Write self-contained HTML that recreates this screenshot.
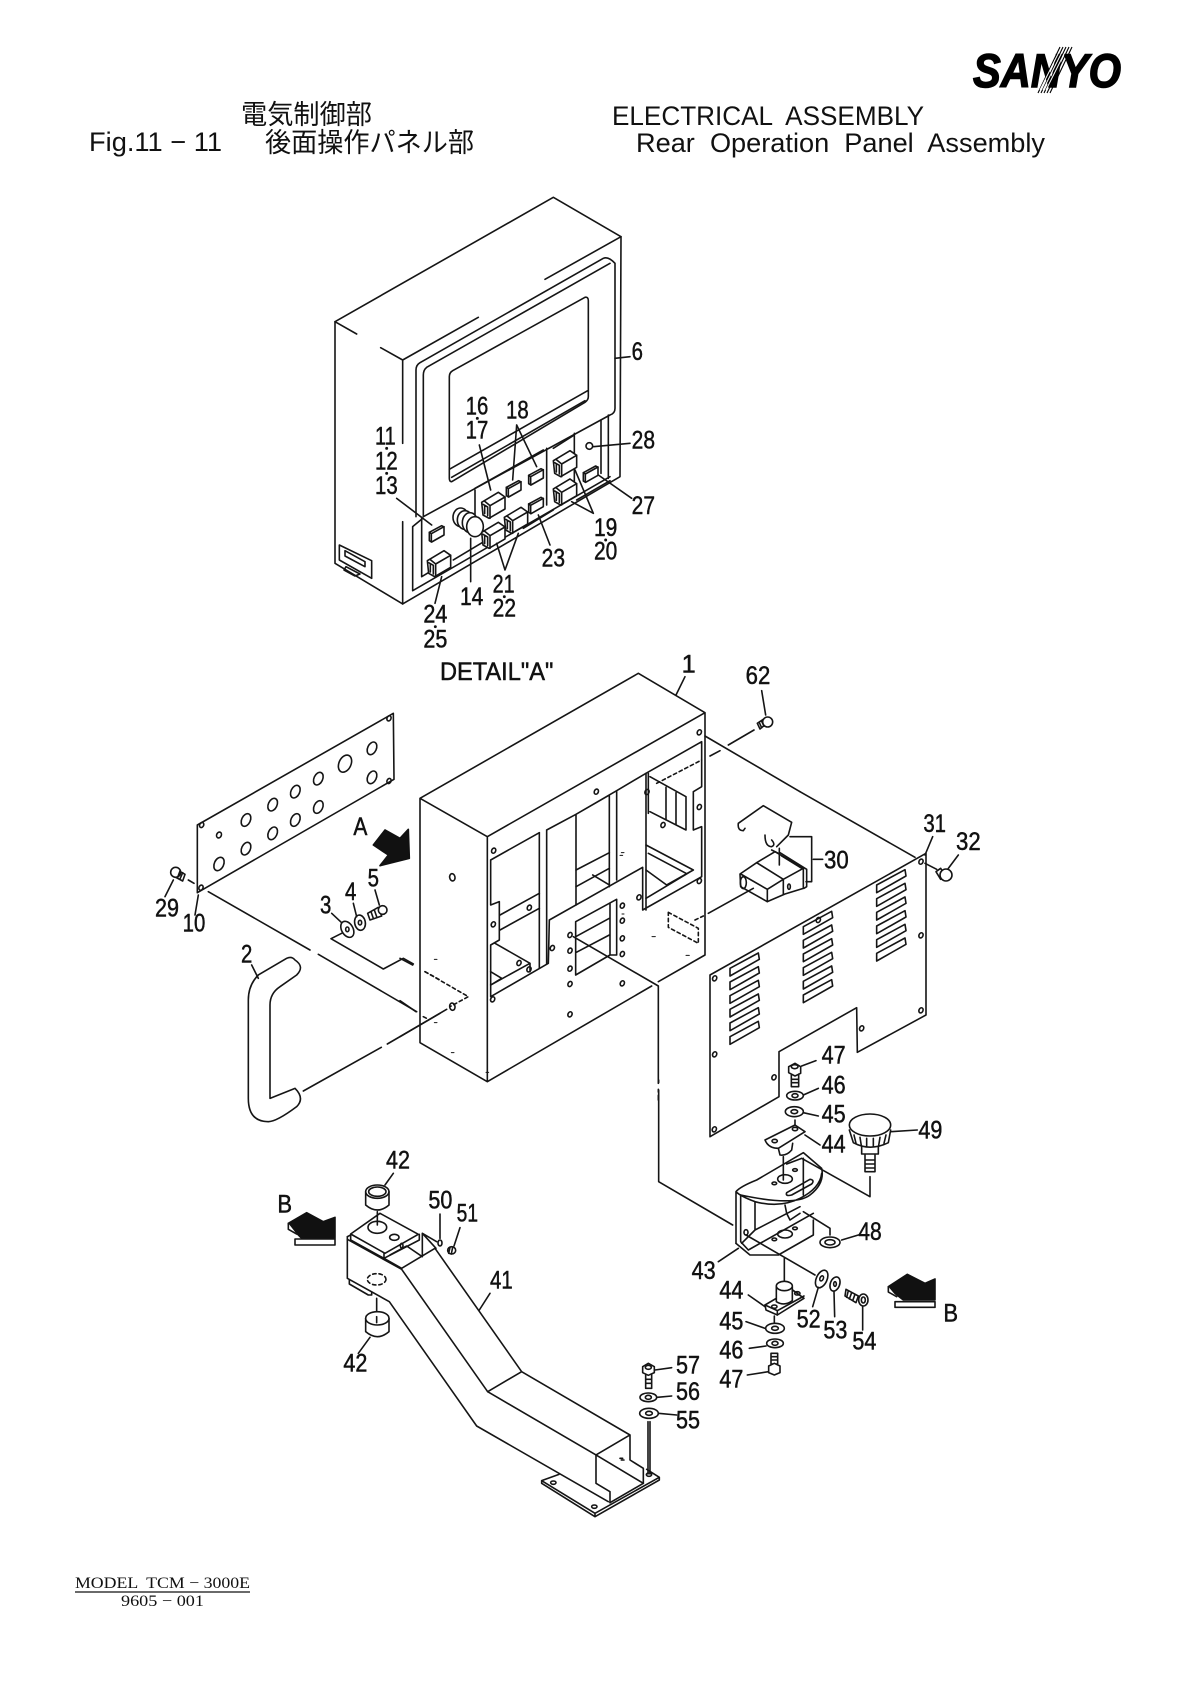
<!DOCTYPE html>
<html><head><meta charset="utf-8"><title>Electrical Assembly</title>
<style>
html,body{margin:0;padding:0;background:#fff}
svg{display:block}
.g{fill:none;stroke:#151515;stroke-width:4.8;stroke-linejoin:round;stroke-linecap:round}
.g text{font-family:"Liberation Sans",sans-serif;font-size:76px;fill:#111;stroke:#111;stroke-width:1.5}
.w{fill:#fff}
.k{fill:#111;stroke:#111}
.d{stroke-dasharray:10 9}
.h{font-family:"Liberation Sans","Noto Sans CJK JP",sans-serif;font-size:27px;fill:#111}
</style></head><body>
<svg width="1190" height="1682" viewBox="0 0 1190 1682" xmlns="http://www.w3.org/2000/svg">
<defs>
<g id="sw"><path class="w" d="M0 32L50 2L70 16V52L22 80L4 70Z"/><path d="M8 28L25 42L70 16M25 42V80M4 38L18 46V72M9 42V66"/></g>
<g id="key"><path class="w" d="M3 20L40 0L47 4V28L10 49L3 45Z"/><path d="M3 20L9 24V49M9 24L47 3"/></g>
<path id="v" d="M0 47L85 1L88 20L0 70Z"/>
<ellipse id="ho" rx="6" ry="8" transform="rotate(25)"/>
</defs>

<!-- header -->
<text class="h" x="241" y="124" textLength="131" lengthAdjust="spacingAndGlyphs">電気制御部</text>
<text class="h" x="89" y="151" textLength="133" lengthAdjust="spacingAndGlyphs">Fig.11 − 11</text>
<text class="h" x="265" y="152" textLength="209" lengthAdjust="spacingAndGlyphs">後面操作パネル部</text>
<text class="h" x="612" y="125" textLength="312" lengthAdjust="spacingAndGlyphs" xml:space="preserve">ELECTRICAL  ASSEMBLY</text>
<text class="h" x="636" y="152" textLength="409" lengthAdjust="spacingAndGlyphs" xml:space="preserve">Rear  Operation  Panel  Assembly</text>
<text x="973" y="87" textLength="148" lengthAdjust="spacingAndGlyphs" style="font:italic bold 47px 'Liberation Sans',sans-serif;fill:#000;stroke:#000;stroke-width:1.4">SANYO</text>
<g stroke="#000" stroke-width="1.1"><path d="M1044 93L1066 47M1047 93L1069 47M1050 93L1072 47M1041 93L1063 47M1038 93L1060 47"/></g>
<g stroke="#fff" stroke-width="1"><path d="M1040 90L1060 50M1043 90L1063 50M1046 90L1066 50"/></g>

<!-- top unit -->
<g class="g" transform="translate(320,180) scale(.33333)">
<path d="M45 425V1150L248 1272L900 890L903 170L700 52L45 425"/>
<path d="M45 425L110 462M182 503L248 540L475 412M675 298L903 170M248 540V790M248 1025V1272"/>
<path d="M288 1010V570Q288 555 300 548L850 235Q865 228 885 250V685Q885 700 870 705L310 1010V585Q310 570 320 562L870 250"/>
<path d="M278 1232V1040L308 1015M278 1232L870 890M305 1190V1012M305 1190L335 1172"/>
<path d="M388 590Q388 578 398 572L795 352Q805 350 805 362V650Q805 660 795 667L395 905Q388 905 388 895Z"/>
<path d="M388 868L803 632M395 892L795 662"/>
<path d="M465 930V1010M680 805V975M763 760V925M843 720V880M865 705V895M465 925L670 810M610 1045L700 990M700 805L763 765M770 960L870 902M400 1140L500 1080"/>
<use href="#sw" x="485" y="935"/><use href="#sw" x="700" y="810"/><use href="#sw" x="700" y="895"/>
<use href="#sw" x="553" y="980"/><use href="#sw" x="485" y="1025"/><use href="#sw" x="322" y="1110"/>
<use href="#key" x="325" y="1037"/><use href="#key" x="556" y="902"/><use href="#key" x="623" y="866"/><use href="#key" x="623" y="952"/><use href="#key" x="787" y="858"/>
<ellipse class="w" cx="422" cy="1012" rx="23" ry="28"/><ellipse class="w" cx="435" cy="1020" rx="23" ry="28"/><ellipse class="w" cx="450" cy="1028" rx="23" ry="30"/><ellipse class="w" cx="465" cy="1040" rx="25" ry="30"/>
<circle class="w" cx="808" cy="798" r="10"/>
<path d="M58 1095L155 1142V1195L58 1140ZM75 1112L135 1145V1160L75 1128ZM78 1160L120 1182L105 1188L72 1170Z"/>
<path d="M230 955L335 1035M478 795L512 930M590 735L578 900M590 735L650 860M885 535L930 530M820 800L930 790M835 885L935 955M765 870L820 1000M755 965L820 1000M655 1005L690 1095M530 1090L555 1170L595 1060M452 1075V1205M365 1190L345 1270"/>
<text x="165" y="793" textLength="62" lengthAdjust="spacingAndGlyphs">11</text><circle class="k" cx="200" cy="805" r="2"/>
<text x="165" y="868" textLength="68" lengthAdjust="spacingAndGlyphs">12</text><circle class="k" cx="200" cy="880" r="2"/>
<text x="165" y="942" textLength="68" lengthAdjust="spacingAndGlyphs">13</text>
<text x="437" y="703" textLength="68" lengthAdjust="spacingAndGlyphs">16</text><circle class="k" cx="472" cy="715" r="2"/>
<text x="437" y="775" textLength="68" lengthAdjust="spacingAndGlyphs">17</text>
<text x="558" y="715" textLength="68" lengthAdjust="spacingAndGlyphs">18</text>
<text x="935" y="540" textLength="34" lengthAdjust="spacingAndGlyphs">6</text>
<text x="935" y="805" textLength="70" lengthAdjust="spacingAndGlyphs">28</text>
<text x="935" y="1002" textLength="70" lengthAdjust="spacingAndGlyphs">27</text>
<text x="822" y="1068" textLength="70" lengthAdjust="spacingAndGlyphs">19</text><circle class="k" cx="857" cy="1080" r="2"/>
<text x="822" y="1138" textLength="70" lengthAdjust="spacingAndGlyphs">20</text>
<text x="665" y="1160" textLength="70" lengthAdjust="spacingAndGlyphs">23</text>
<text x="518" y="1238" textLength="66" lengthAdjust="spacingAndGlyphs">21</text><circle class="k" cx="553" cy="1250" r="2"/>
<text x="518" y="1310" textLength="70" lengthAdjust="spacingAndGlyphs">22</text>
<text x="420" y="1275" textLength="70" lengthAdjust="spacingAndGlyphs">14</text>
<text x="310" y="1328" textLength="72" lengthAdjust="spacingAndGlyphs">24</text><circle class="k" cx="346" cy="1340" r="2"/>
<text x="310" y="1402" textLength="72" lengthAdjust="spacingAndGlyphs">25</text>
</g>

<!-- main box -->
<g class="g" transform="translate(400,660) scale(.33333)">
<text x="120" y="60" textLength="340" lengthAdjust="spacingAndGlyphs">DETAIL"A"</text>
<text x="845" y="38">1</text>
<path d="M855 50L828 105"/>
<path d="M915 885V158L715 40L60 415V1148L262 1265L755 978M915 885L775 965M60 415L262 530L915 158M262 530V1265"/>
<path d="M418 518L272 600V735L298 725V840L272 855V1010L445 910L448 780L728 622V750L905 650V500L880 510V395L905 380V245L738 340V750"/>
<path d="M418 518V925M440 510V912M440 510L528 463V735M528 463L628 405V680M650 392V660M628 405L650 392L738 340"/>
<path d="M300 765L418 700M300 810L418 745M285 850L390 910L272 975M272 935L305 955L272 975M390 910V935"/>
<path d="M528 630L628 578M528 680L628 625M578 645L628 675"/>
<path d="M750 350L858 410V510L750 455M798 382V480M828 398V495M745 340V460M738 555L880 630L738 715M738 630L800 675L880 630M745 580L858 640"/>
<path d="M527 785L650 718V885H630L527 945ZM630 730V885M527 830L628 775M527 878L628 825"/>
<use href="#ho" x="281" y="572"/><use href="#ho" x="898" y="217"/><use href="#ho" x="589" y="395"/><use href="#ho" x="898" y="441"/><use href="#ho" x="741" y="396"/><use href="#ho" x="789" y="495"/><use href="#ho" x="898" y="663"/><use href="#ho" x="717" y="712"/><use href="#ho" x="388" y="743"/><use href="#ho" x="280" y="793"/><use href="#ho" x="457" y="864"/><use href="#ho" x="357" y="909"/><use href="#ho" x="387" y="928"/><use href="#ho" x="278" y="1018"/><use href="#ho" x="510" y="825"/><use href="#ho" x="510" y="872"/><use href="#ho" x="510" y="926"/><use href="#ho" x="510" y="972"/><use href="#ho" x="510" y="1063"/><use href="#ho" x="667" y="737"/><use href="#ho" x="667" y="782"/><use href="#ho" x="667" y="835"/><use href="#ho" x="667" y="882"/><use href="#ho" x="667" y="970"/>
<ellipse cx="157" cy="652" rx="8" ry="11" transform="rotate(-10 157 652)"/><ellipse cx="157" cy="1040" rx="8" ry="11" transform="rotate(-10 157 1040)"/>
<g class="d"><path d="M770 370L905 300M805 757L895 805V850L805 802ZM885 780L910 768M75 935L205 1010L150 1040"/></g>
<g stroke-width="3"><path d="M664 578h8M660 586h8M756 830h10M858 886h10M103 898h8M103 1088h8M154 1178h8M258 1237h8M666 762h6"/></g>
<path d="M915 228L1200 395M930 288L960 272M985 255L1062 210M1085 92L1097 165"/>
<text x="1037" y="72" textLength="74" lengthAdjust="spacingAndGlyphs">62</text>
<path class="w" d="M1072 190L1090 178L1098 192L1080 207Z"/><circle class="w" cx="1103" cy="186" r="15"/><path d="M1078 188L1085 203M1085 184L1092 198"/>
<path d="M0 895L38 915M0 1022L48 1055M0 1130L140 1048"/>
<path d="M520 830L775 978V1270M775 1288V1296M775 1306V1320"/>
<path d="M1015 490L1090 437L1175 487L1165 525L1130 560M1015 490Q1012 512 1030 512L1035 505M1095 525Q1095 560 1115 560Q1128 555 1115 540"/>
</g>

<!-- left plate + handle -->
<g class="g" transform="translate(140,700) scale(.33333)">
<path d="M172 375L760 40L762 238L172 578Z"/>
<g transform="translate(0,0)">
<ellipse cx="237" cy="492" rx="14" ry="21" transform="rotate(25 237 492)"/><ellipse cx="318" cy="360" rx="13" ry="20" transform="rotate(25 318 360)"/><ellipse cx="398" cy="314" rx="13" ry="20" transform="rotate(25 398 314)"/><ellipse cx="466" cy="275" rx="13" ry="20" transform="rotate(25 466 275)"/><ellipse cx="535" cy="236" rx="13" ry="20" transform="rotate(25 535 236)"/><ellipse cx="615" cy="191" rx="18" ry="27" transform="rotate(25 615 191)"/><ellipse cx="696" cy="145" rx="13" ry="20" transform="rotate(25 696 145)"/><ellipse cx="318" cy="446" rx="13" ry="20" transform="rotate(25 318 446)"/><ellipse cx="398" cy="400" rx="13" ry="20" transform="rotate(25 398 400)"/><ellipse cx="466" cy="360" rx="13" ry="20" transform="rotate(25 466 360)"/><ellipse cx="535" cy="321" rx="13" ry="20" transform="rotate(25 535 321)"/><ellipse cx="696" cy="232" rx="13" ry="20" transform="rotate(25 696 232)"/><ellipse cx="237" cy="405" rx="7" ry="9" transform="rotate(25 237 405)"/>
<use href="#ho" x="185" y="375"/><use href="#ho" x="747" y="55"/><use href="#ho" x="747" y="243"/><use href="#ho" x="183" y="563"/>
</g>
<path d="M75 590L100 540M145 540L162 550M175 585L165 645M205 575L510 750M535 763L830 935"/>
<path class="w" d="M108 508L135 523L128 543L100 528Z"/><circle class="w" cx="107" cy="517" r="15"/><path d="M120 513L113 532M128 518L120 537"/>
<text x="45" y="650" textLength="72" lengthAdjust="spacingAndGlyphs">29</text>
<text x="128" y="695" textLength="68" lengthAdjust="spacingAndGlyphs">10</text>
<text x="303" y="788" textLength="34" lengthAdjust="spacingAndGlyphs">2</text>
<path d="M335 795L355 835"/>
<path d="M440 775L355 825Q325 855 325 900V1195Q325 1265 385 1265Q410 1265 470 1220Q495 1195 465 1165L390 1195V915Q390 880 420 860L470 825Q495 800 465 780Q455 768 440 775Z"/>
<path d="M490 1173L724 1042M742 1032L900 940"/>
<ellipse cx="622" cy="688" rx="17" ry="26" transform="rotate(-30 622 688)"/><ellipse cx="622" cy="688" rx="5" ry="7"/>
<ellipse cx="660" cy="668" rx="16" ry="23" transform="rotate(-10 660 668)"/><ellipse cx="660" cy="668" rx="5" ry="7"/>
<path d="M683 640L715 622L725 648L690 660ZM693 635L700 655M703 630L710 650"/><circle class="w" cx="728" cy="630" r="13"/>
<text x="540" y="640" textLength="34" lengthAdjust="spacingAndGlyphs">3</text>
<text x="615" y="600" textLength="34" lengthAdjust="spacingAndGlyphs">4</text>
<text x="683" y="560" textLength="34" lengthAdjust="spacingAndGlyphs">5</text>
<path d="M575 640L605 668M640 610L650 650M705 570L718 615"/>
<path d="M605 700L573 716L730 807L790 775L820 792"/>
<path class="d" d="M855 815L900 840M850 950L860 955"/>
<text x="640" y="405" textLength="42" lengthAdjust="spacingAndGlyphs">A</text>
<path class="k" d="M700 435L735 390L780 415L805 388L808 475L720 497L745 465Z"/>
</g>

<!-- panel 30 + plate 31 -->
<g class="g" transform="translate(680,820) scale(.33333)">
<path class="w" d="M180 162L230 128L285 95L370 145V205L315 222L262 245L182 200Z"/>
<path d="M182 162L262 208V245M262 208L310 178V222M230 128L310 178L370 145M300 98L380 148V200L372 205M298 85V135M305 108L370 148M275 90L295 100"/>
<path d="M330 50H395V185H378M400 118H428M85 280L220 205"/>
<ellipse cx="190" cy="188" rx="9" ry="18"/><ellipse cx="327" cy="200" rx="4" ry="8"/>
<text x="432" y="145" textLength="74" lengthAdjust="spacingAndGlyphs">30</text>
<path d="M90 465L738 100V585L532 697L530 563L297 695V830L90 950Z"/>
<path d="M735 105L758 50M360 -85L705 112M805 145L835 105M735 130L770 148"/>
<text x="730" y="36" textLength="68" lengthAdjust="spacingAndGlyphs">31</text>
<text x="828" y="90" textLength="74" lengthAdjust="spacingAndGlyphs">32</text>
<path d="M768 155L782 145L796 168L782 178Z"/><circle class="w" cx="798" cy="165" r="18"/>
<use href="#ho" x="723" y="125"/><use href="#ho" x="415" y="300"/><use href="#ho" x="723" y="346"/><use href="#ho" x="723" y="571"/><use href="#ho" x="545" y="625"/><use href="#ho" x="282" y="772"/><use href="#ho" x="104" y="475"/><use href="#ho" x="104" y="703"/><use href="#ho" x="103" y="928"/>
<g id="vents">
<use href="#v" x="150" y="439"/><use href="#v" x="150" y="480"/><use href="#v" x="150" y="521"/><use href="#v" x="150" y="562"/><use href="#v" x="150" y="603"/>
<use href="#v" x="370" y="314"/><use href="#v" x="370" y="355"/><use href="#v" x="370" y="396"/><use href="#v" x="370" y="437"/><use href="#v" x="370" y="478"/>
<use href="#v" x="590" y="189"/><use href="#v" x="590" y="230"/><use href="#v" x="590" y="271"/><use href="#v" x="590" y="312"/><use href="#v" x="590" y="353"/>
<use href="#v" x="150" y="398"/><use href="#v" x="370" y="273"/><use href="#v" x="590" y="148"/>
</g>
<path d="M326 740L345 730L362 740V760L345 768L326 758ZM334 765V800H356V762M334 778H356M334 788H356M365 738L408 722"/><ellipse cx="344" cy="740" rx="10" ry="6"/>
<text x="425" y="730" textLength="72" lengthAdjust="spacingAndGlyphs">47</text>
</g>

<!-- lower right -->
<g class="g" transform="translate(640,1080) scale(.33333)">
<path d="M56 0V8M56 30V305L278 435"/>
<ellipse cx="465" cy="47" rx="25" ry="13"/><ellipse cx="465" cy="47" rx="9" ry="6"/>
<ellipse cx="463" cy="95" rx="27" ry="15"/><ellipse cx="463" cy="95" rx="10" ry="6"/>
<path d="M490 45L535 25M490 98L535 108M465 120V140M495 165L540 195"/>
<text x="545" y="40" textLength="72" lengthAdjust="spacingAndGlyphs">46</text>
<text x="545" y="128" textLength="72" lengthAdjust="spacingAndGlyphs">45</text>
<text x="545" y="217" textLength="72" lengthAdjust="spacingAndGlyphs">44</text>
<path d="M415 205L420 225Q440 228 455 210L458 190M430 230V300"/>
<path class="w" d="M375 180L465 135L495 155L415 205Q385 205 375 180Z"/><ellipse cx="404" cy="183" rx="8" ry="5"/><ellipse cx="465" cy="147" rx="8" ry="5"/>
<path d="M628 150L640 188Q690 215 745 188L752 150"/><ellipse class="w" cx="690" cy="135" rx="62" ry="33"/>
<path d="M642 165L648 190M660 172L664 197M680 175V200M700 175V200M720 172L716 197M738 165L732 190"/>
<path d="M665 200V222H715V200M675 225V275H705V225M675 240H705M675 252H705M675 264H705M752 155L832 150M690 290V350L485 235L440 252"/>
<text x="835" y="175" textLength="72" lengthAdjust="spacingAndGlyphs">49</text>
<path d="M288 490V335Q300 320 350 300L490 218L545 265Q555 310 510 345T302 345M288 335Q300 348 345 365Q420 385 480 355Q540 325 545 280"/>
<path d="M288 490L330 525H415L520 465V420M302 345V485L325 510L520 400M345 365V450L305 490M345 450L480 380M490 235V345"/>
<ellipse cx="435" cy="462" rx="22" ry="12"/><ellipse cx="403" cy="478" rx="7" ry="4"/><ellipse cx="465" cy="445" rx="7" ry="4"/>
<ellipse cx="435" cy="297" rx="22" ry="13"/><ellipse cx="403" cy="310" rx="7" ry="4"/><ellipse cx="465" cy="270" rx="7" ry="4"/>
<path d="M440 338L510 298Q525 300 515 312L455 345Q435 350 440 338ZM435 375L440 400L450 420L480 400M490 395L570 445V465M605 480L655 465"/>
<ellipse cx="570" cy="487" rx="30" ry="16"/><ellipse cx="570" cy="487" rx="15" ry="8"/>
<text x="655" y="480" textLength="70" lengthAdjust="spacingAndGlyphs">48</text>
<text x="155" y="597" textLength="72" lengthAdjust="spacingAndGlyphs">43</text>
<path d="M235 545L295 505M318 465L525 585"/><ellipse cx="318" cy="457" rx="6" ry="8"/>
<text x="238" y="655" textLength="72" lengthAdjust="spacingAndGlyphs">44</text>
<path d="M325 645L375 680M433 535V610"/>
<path class="w" d="M375 675L455 628L492 655L412 705L378 690Z"/><path d="M375 675L412 692L492 648M412 692V705"/><ellipse cx="403" cy="680" rx="8" ry="5"/><ellipse cx="472" cy="640" rx="8" ry="5"/>
<path class="w" d="M409 620V665Q433 680 457 662V620Z"/><ellipse class="w" cx="433" cy="618" rx="24" ry="14"/>
<text x="238" y="748" textLength="72" lengthAdjust="spacingAndGlyphs">45</text>
<path d="M318 725L375 745M403 708V728M328 805L378 798M322 885L385 875"/>
<ellipse cx="405" cy="745" rx="28" ry="15"/><ellipse cx="405" cy="745" rx="10" ry="6"/>
<text x="238" y="835" textLength="72" lengthAdjust="spacingAndGlyphs">46</text>
<ellipse cx="405" cy="790" rx="25" ry="13"/><ellipse cx="405" cy="790" rx="9" ry="6"/>
<text x="238" y="922" textLength="72" lengthAdjust="spacingAndGlyphs">47</text>
<path d="M393 820H413V852H393ZM393 830H413M393 840H413"/><path class="w" d="M386 858L403 850L420 858V878L403 885L386 878Z"/>
<ellipse cx="545" cy="597" rx="16" ry="28" transform="rotate(25 545 597)"/><ellipse cx="545" cy="595" rx="5" ry="8" transform="rotate(25 545 595)"/>
<path d="M535 622L518 680"/><text x="470" y="742" textLength="72" lengthAdjust="spacingAndGlyphs">52</text>
<ellipse cx="585" cy="612" rx="14" ry="22" transform="rotate(20 585 612)"/><ellipse cx="585" cy="612" rx="4" ry="7"/>
<path d="M582 635L584 710"/><text x="550" y="775" textLength="72" lengthAdjust="spacingAndGlyphs">53</text>
<path d="M618 628L655 648L648 668L615 648ZM625 632L620 652M635 638L628 657M645 643L638 662M668 680V750"/><ellipse class="w" cx="670" cy="660" rx="14" ry="18"/><ellipse cx="670" cy="660" rx="6" ry="9"/>
<text x="637" y="808" textLength="72" lengthAdjust="spacingAndGlyphs">54</text>
<path class="k" d="M745 620L802 583L855 610L885 597V660H790L745 625Z"/><path class="w" d="M745 620V636L770 650M765 665H885V682H765Z"/>
<text x="910" y="725" textLength="44" lengthAdjust="spacingAndGlyphs">B</text>
<text x="108" y="880" textLength="72" lengthAdjust="spacingAndGlyphs">57</text>
<text x="108" y="960" textLength="72" lengthAdjust="spacingAndGlyphs">56</text>
<text x="108" y="1046" textLength="72" lengthAdjust="spacingAndGlyphs">55</text>
</g>

<!-- lower left arm -->
<g class="g" transform="translate(260,1140) scale(.33333)">
<path d="M375 135L400 100M330 592L295 640M352 215V255M350 475V530"/>
<text x="378" y="85" textLength="72" lengthAdjust="spacingAndGlyphs">42</text>
<text x="250" y="695" textLength="72" lengthAdjust="spacingAndGlyphs">42</text>
<path d="M317 155V195Q352 225 387 195V155"/><ellipse cx="352" cy="155" rx="35" ry="20"/><ellipse cx="352" cy="155" rx="26" ry="14"/>
<path d="M317 535V575Q352 605 387 575V535"/><ellipse class="w" cx="352" cy="535" rx="35" ry="20"/><path d="M350 530V548"/>
<path d="M272 282L360 220L475 283L375 340ZM272 282V300L372 355V340M372 355L478 300V283"/>
<ellipse cx="352" cy="262" rx="28" ry="18"/><ellipse cx="403" cy="292" rx="14" ry="9"/><ellipse cx="425" cy="317" rx="4" ry="7"/>
<path d="M262 290V415L388 485L650 858L1045 1085"/>
<path d="M262 290L272 285M262 298L425 388L683 755L1008 945V1030L1050 1055V1088"/>
<path d="M425 385L525 325L785 695L1110 885V960L1150 985V1030L1050 1088M1008 945L1110 885M683 755L785 695"/>
<path d="M372 355L425 385M487 280V350M487 280L528 325M390 345L440 318L487 350M487 280L530 305"/>
<path d="M540 222V295M600 263L582 318M690 460L658 510"/>
<ellipse cx="540" cy="309" rx="6" ry="9"/><ellipse cx="575" cy="331" rx="12" ry="11"/><path d="M570 322L566 340M578 322L574 342"/>
<text x="505" y="205" textLength="72" lengthAdjust="spacingAndGlyphs">50</text>
<text x="590" y="245" textLength="64" lengthAdjust="spacingAndGlyphs">51</text>
<text x="690" y="445" textLength="68" lengthAdjust="spacingAndGlyphs">41</text>
<ellipse class="d" cx="350" cy="418" rx="28" ry="17" stroke-dasharray="5 5"/>
<path d="M268 420V432L325 465H335V458"/>
<path d="M897 1003L845 1022V1030L1005 1130L1198 1020V1012L1160 988M845 1022L1005 1120L1198 1012M1005 1120V1130M1008 945L1150 1030"/>
<ellipse cx="880" cy="1028" rx="8" ry="5"/><ellipse cx="1003" cy="1100" rx="8" ry="5"/><ellipse cx="1167" cy="1004" rx="8" ry="5"/>
<path d="M1164 845V1002M1170 845V1002M1080 955h8M1084 960h8"/>
<path d="M1148 680L1165 670L1183 680V698L1165 706L1148 698ZM1157 705V745H1175V702M1157 718H1175M1157 730H1175M1185 690L1235 683"/><ellipse cx="1165" cy="682" rx="9" ry="6"/>
<ellipse cx="1165" cy="772" rx="25" ry="13"/><ellipse cx="1165" cy="772" rx="9" ry="6"/><path d="M1192 772L1235 768"/>
<ellipse cx="1167" cy="820" rx="28" ry="15"/><ellipse cx="1167" cy="820" rx="10" ry="6"/><path d="M1195 820L1250 825"/>
<path class="k" d="M85 250L140 218L190 245L225 232V295H125L85 255Z"/><path class="w" d="M85 250V268L110 282M105 297H225V315H105Z"/>
<text x="52" y="218" textLength="44" lengthAdjust="spacingAndGlyphs">B</text>
</g>

<!-- footer -->
<text x="75" y="1588" textLength="175" lengthAdjust="spacingAndGlyphs" style="font:16px 'Liberation Serif',serif;fill:#111" xml:space="preserve">MODEL  TCM − 3000E</text>
<path d="M75 1592H250" stroke="#111" stroke-width="1.2"/>
<text x="121" y="1606" textLength="83" lengthAdjust="spacingAndGlyphs" style="font:16px 'Liberation Serif',serif;fill:#111">9605 − 001</text>
</svg>
</body></html>
